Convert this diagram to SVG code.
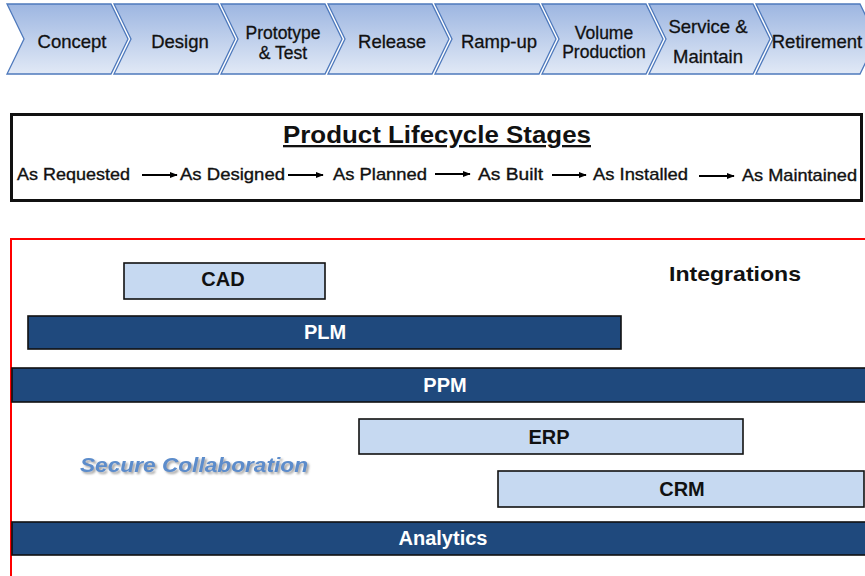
<svg xmlns="http://www.w3.org/2000/svg" width="865" height="576" viewBox="0 0 865 576">
<defs>
<linearGradient id="chev" x1="0" y1="0" x2="0" y2="1">
<stop offset="0" stop-color="#9DB6E1"/>
<stop offset="1" stop-color="#E1E9F6"/>
</linearGradient>
<marker id="ah" viewBox="0 0 10 10" refX="9" refY="5" markerWidth="4" markerHeight="4" orient="auto" markerUnits="strokeWidth">
<path d="M0,1 L10,5 L0,9 Z" fill="#000"/>
</marker>
<filter id="sh" x="-10%" y="-30%" width="120%" height="160%">
<feDropShadow dx="2" dy="2" stdDeviation="1.2" flood-color="#7f7f7f" flood-opacity="0.7"/>
</filter>
</defs>
<style>
.chev{fill:url(#chev);stroke:#4E79BC;stroke-width:1.3}
.ct{font-family:"Liberation Sans",Arial,sans-serif;font-size:18.5px;fill:#111;stroke:#111;stroke-width:0.3;text-anchor:middle}
.ct2{font-size:17.5px}
.st{font-family:"Liberation Sans",Arial,sans-serif;font-size:17px;fill:#111;stroke:#111;stroke-width:0.35}
.dark{fill:#1F497D;stroke:#111;stroke-width:1.6}
.light{fill:#C6D9F1;stroke:#111;stroke-width:1.6}
.bt{font-family:"Liberation Sans",Arial,sans-serif;font-size:20px;font-weight:bold;text-anchor:middle}
.w{fill:#fff}
.k{fill:#111}
.arr{stroke:#000;stroke-width:2;fill:none;marker-end:url(#ah)}
</style>
<rect width="865" height="576" fill="#fff"/>

<g id="chevrons">
<g id="concept"><polygon class="chev" points="7,4 111,4 128,39 111,74 7,74 24,39"/><text class="ct" x="72" y="48">Concept</text></g>
<g id="design"><polygon class="chev" points="114,4 218,4 235,39 218,74 114,74 131,39"/><text class="ct" x="180" y="48">Design</text></g>
<g id="prototype"><polygon class="chev" points="221,4 325,4 342,39 325,74 221,74 238,39"/><text class="ct ct2" x="283" y="39">Prototype</text><text class="ct ct2" x="283" y="59">&amp; Test</text></g>
<g id="release"><polygon class="chev" points="328,4 432,4 449,39 432,74 328,74 345,39"/><text class="ct" x="392" y="48">Release</text></g>
<g id="rampup"><polygon class="chev" points="435,4 539,4 556,39 539,74 435,74 452,39"/><text class="ct" x="499" y="48">Ramp-up</text></g>
<g id="volume"><polygon class="chev" points="542,4 646,4 663,39 646,74 542,74 559,39"/><text class="ct ct2" x="604" y="39">Volume</text><text class="ct ct2" x="604" y="58">Production</text></g>
<g id="service"><polygon class="chev" points="649,4 753,4 770,39 753,74 649,74 666,39"/><text class="ct" x="708" y="33">Service &amp;</text><text class="ct" x="708" y="63">Maintain</text></g>
<g id="retirement"><polygon class="chev" points="756,4 860,4 877,39 860,74 756,74 773,39"/><text class="ct" x="817" y="48">Retirement</text></g>
</g>

<g id="lifecycle">
<rect x="11.5" y="114.5" width="850" height="86" fill="#fff" stroke="#111" stroke-width="3"/>
<text x="437" y="143" font-family="Liberation Sans,Arial,sans-serif" font-size="23px" font-weight="bold" fill="#111" text-anchor="middle" text-decoration="underline" textLength="308" lengthAdjust="spacingAndGlyphs">Product Lifecycle Stages</text>
<text class="st" x="17" y="180" textLength="113" lengthAdjust="spacingAndGlyphs">As Requested</text>
<text class="st" x="180" y="180" textLength="105" lengthAdjust="spacingAndGlyphs">As Designed</text>
<text class="st" x="333" y="180" textLength="94" lengthAdjust="spacingAndGlyphs">As Planned</text>
<text class="st" x="478" y="180" textLength="65" lengthAdjust="spacingAndGlyphs">As Built</text>
<text class="st" x="593" y="180" textLength="95" lengthAdjust="spacingAndGlyphs">As Installed</text>
<text class="st" x="742" y="181" textLength="115" lengthAdjust="spacingAndGlyphs">As Maintained</text>
</g>

<g id="connectors">
<line class="arr" x1="142" y1="175" x2="177" y2="175"/>
<line class="arr" x1="288" y1="175" x2="323" y2="175"/>
<line class="arr" x1="435" y1="174" x2="470" y2="174"/>
<line class="arr" x1="552" y1="175" x2="586" y2="175"/>
<line class="arr" x1="699" y1="176" x2="734" y2="176"/>
</g>

<g id="frame">
<rect x="11" y="239" width="880" height="400" fill="none" stroke="#FF0000" stroke-width="2"/>
</g>

<g id="cad"><rect class="light" x="124" y="263" width="201" height="36"/><text class="bt k" x="223" y="286">CAD</text></g>
<g id="integrations"><text x="735" y="281" font-family="Liberation Sans,Arial,sans-serif" font-size="21px" font-weight="bold" fill="#111" text-anchor="middle" textLength="132" lengthAdjust="spacingAndGlyphs">Integrations</text></g>
<g id="plm"><rect class="dark" x="28" y="316" width="593" height="33"/><text class="bt w" x="325" y="339">PLM</text></g>
<g id="ppm"><rect class="dark" x="12" y="368" width="870" height="34"/><text class="bt w" x="445" y="392">PPM</text></g>
<g id="erp"><rect class="light" x="359" y="419" width="384" height="35"/><text class="bt k" x="549" y="444">ERP</text></g>
<g id="secure"><text x="80" y="472" font-family="Liberation Sans,Arial,sans-serif" font-size="21px" font-weight="bold" font-style="italic" fill="#5B8CCB" filter="url(#sh)" textLength="228" lengthAdjust="spacingAndGlyphs">Secure Collaboration</text></g>
<g id="crm"><rect class="light" x="498" y="471" width="366" height="36"/><text class="bt k" x="682" y="496">CRM</text></g>
<g id="analytics"><rect class="dark" x="12" y="522" width="870" height="33"/><text class="bt w" x="443" y="545">Analytics</text></g>
</svg>
